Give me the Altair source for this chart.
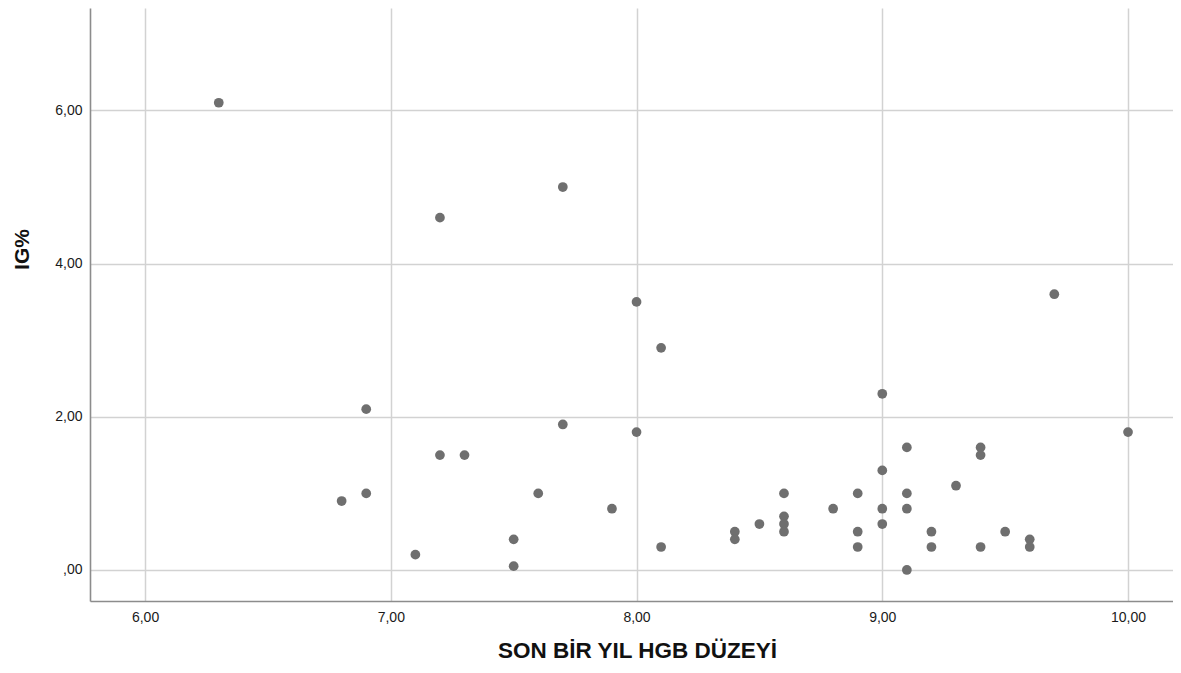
import altair as alt
import pandas as pd

hgb = [6.3, 7.7, 7.2, 9.7, 8.0, 8.1, 6.9, 9.0, 7.7, 8.0, 10.0, 7.2, 7.3, 9.1, 9.4, 9.4,
       9.0, 9.3, 6.8, 6.9, 7.6, 8.6, 8.9, 9.1, 7.9, 8.8, 9.0, 9.1, 8.6, 8.5, 8.6, 9.0,
       8.4, 8.6, 8.9, 9.2, 9.5, 8.4, 7.5, 9.6, 7.1, 8.1, 8.9, 9.2, 9.4, 9.6, 7.5, 9.1]
ig = [6.1, 5.0, 4.6, 3.6, 3.5, 2.9, 2.1, 2.3, 1.9, 1.8, 1.8, 1.5, 1.5, 1.6, 1.6, 1.5,
      1.3, 1.1, 0.9, 1.0, 1.0, 1.0, 1.0, 1.0, 0.8, 0.8, 0.8, 0.8, 0.7, 0.6, 0.6, 0.6,
      0.5, 0.5, 0.5, 0.5, 0.5, 0.4, 0.4, 0.4, 0.2, 0.3, 0.3, 0.3, 0.3, 0.3, 0.05, 0.0]

x_ticks = [6, 7, 8, 9, 10]
y_ticks = [0, 2, 4, 6]

df = pd.DataFrame({"hgb": hgb, "ig": ig})

label_expr = "datum.value == 0 ? ',00' : replace(format(datum.value, '.2f'), '.', ',')"
FONT = "Liberation Sans"

chart = alt.Chart(df).mark_circle(size=95, color="#6f6f6f", opacity=1).encode(
    x=alt.X("hgb:Q",
            scale=alt.Scale(domain=[5.776, 10.183], nice=False, zero=False),
            axis=alt.Axis(values=x_ticks, title="SON BİR YIL HGB DÜZEYİ",
                          labelExpr=label_expr, ticks=False, labelPadding=9,
                          titleX=547, titleY=49, titleBaseline="middle",
                          titleFontSize=22.5, titleFontWeight="bold")),
    y=alt.Y("ig:Q",
            scale=alt.Scale(domain=[-0.405, 7.337], nice=False, zero=False),
            axis=alt.Axis(values=y_ticks, title="IG%",
                          labelExpr=label_expr, ticks=False, labelPadding=8,
                          titleX=-68, titleY=241, titleBaseline="middle",
                          titleAlign="center", titleAngle=270,
                          titleFontSize=21, titleFontWeight="bold")),
).properties(
    width=1083, height=593,
    padding={"left": 82, "top": 0, "right": 0, "bottom": 64},
    autosize=alt.AutoSizeParams(type="none"),
).configure_view(
    stroke=None
).configure_axis(
    labelFont=FONT, titleFont=FONT, labelFontSize=14, labelColor="#1a1a1a",
    titleColor="#111111",
    gridColor="#d2d2d2", gridWidth=1.5,
    domainColor="#8c8c8c", domainWidth=1.6,
)

chart.save("out.html", embed_options={"renderer": "svg", "actions": False})
